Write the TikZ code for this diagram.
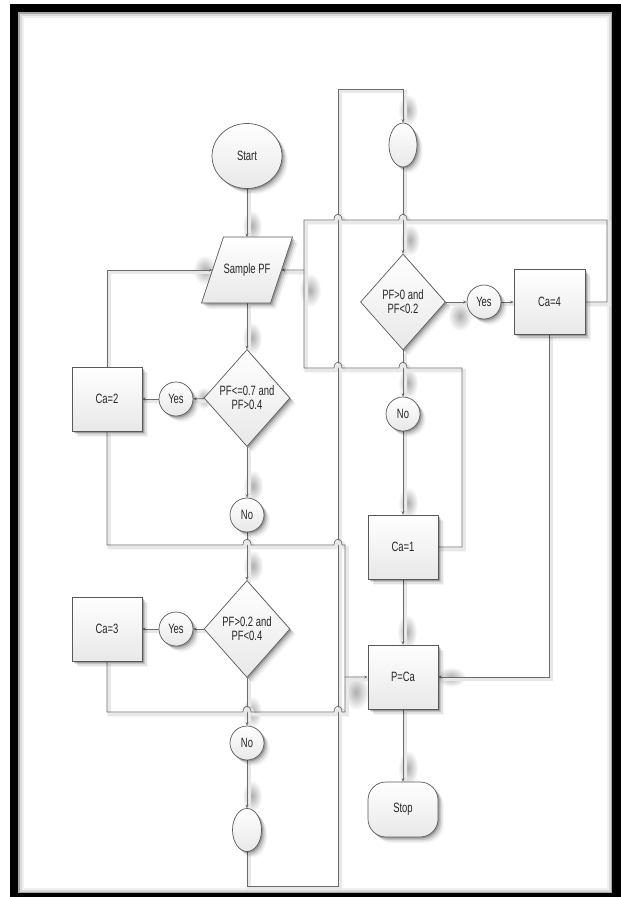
\documentclass[tikz,border=0pt]{standalone}
\usepackage{fontspec}
\setmainfont{Liberation Sans}[FakeStretch=0.7]
\usetikzlibrary{shapes.geometric,arrows.meta,shadows}
\pgfdeclarelayer{bg}
\pgfdeclarelayer{mid}
\pgfsetlayers{bg,mid,main}
\begin{document}
\begin{tikzpicture}[x=1pt,y=-1pt,
  ln/.style={draw=black!58, line width=0.75pt,
     preaction={draw=black!9, line width=3.5pt, -, transform canvas={shift={(2pt,-2.5pt)}}}},
  arr/.style={ln, -{Stealth[length=3.5pt,width=3pt]}},
  sh/.style={drop shadow={shadow xshift=1.5pt,shadow yshift=-1.5pt,opacity=.2,fill=black},
             drop shadow={shadow xshift=3pt,shadow yshift=-3pt,opacity=.13,fill=black},
             drop shadow={shadow xshift=4.5pt,shadow yshift=-4.5pt,opacity=.08,fill=black},
             drop shadow={shadow xshift=6pt,shadow yshift=-6pt,opacity=.04,fill=black}},
  txt/.style={text=black!85, font=\fontsize{13.5}{14}\selectfont, align=center},
  box/.style={sh, draw=black!65, line width=0.7pt, top color=white, bottom color=black!9,
              txt, inner sep=0pt},
  proc/.style={box, rectangle, minimum width=70pt, minimum height=64pt},
  dec/.style={box, diamond, minimum width=86pt, minimum height=97pt},
  ans/.style={box, circle, minimum size=34pt},
  oval/.style={box, ellipse, minimum width=28pt, minimum height=44pt},
  blob/.style={inner color=black!32, outer color=white}]
\useasboundingbox (0,0) rectangle (621,897);
\begin{pgfonlayer}{bg}
% frame
\fill[black] (10,4) rectangle (621,897);
\fill[white] (18,12) rectangle (612,893);
\draw[black!35, line width=1.5pt] (18.75,12.75) rectangle (611.25,892.25);
\draw[black!15, line width=2pt] (20.5,14.5) rectangle (609.5,890.5);
\draw[black!6, line width=2pt] (22.5,16.5) rectangle (607.5,888.5);
% arrowhead shadows
\shade[blob] (252,226) ellipse[x radius=10pt, y radius=16pt];
\shade[blob] (252,338) ellipse[x radius=10pt, y radius=16pt];
\shade[blob] (253,486) ellipse[x radius=10pt, y radius=16pt];
\shade[blob] (253,566) ellipse[x radius=10pt, y radius=16pt];
\shade[blob] (252,712) ellipse[x radius=10pt, y radius=16pt];
\shade[blob] (252,796) ellipse[x radius=10pt, y radius=16pt];
\shade[blob] (408,110) ellipse[x radius=10pt, y radius=16pt];
\shade[blob] (410,240) ellipse[x radius=10pt, y radius=16pt];
\shade[blob] (408,383) ellipse[x radius=10pt, y radius=16pt];
\shade[blob] (408,503) ellipse[x radius=10pt, y radius=16pt];
\shade[blob] (407,632) ellipse[x radius=10pt, y radius=18pt];
\shade[blob] (408,768) ellipse[x radius=10pt, y radius=18pt];
\shade[blob] (460,316) ellipse[x radius=12pt, y radius=15pt];
\shade[blob] (204,398) ellipse[x radius=9pt, y radius=11pt];
\shade[blob] (205,270) ellipse[x radius=12pt, y radius=15pt];
\shade[blob] (310,290) ellipse[x radius=11pt, y radius=17pt];
\shade[blob] (356,692) ellipse[x radius=13pt, y radius=18pt];
\shade[blob] (451,677) ellipse[x radius=15pt, y radius=10pt];
\end{pgfonlayer}

% Sample PF parallelogram
\path[box] (201.5,303) -- (270.5,303) -- (292.5,237) -- (223.5,237) -- cycle;
\node[txt] (spf) at (247,270) {Sample PF};
\coordinate (spfT) at (247,237);
\coordinate (spfB) at (247,303);
\coordinate (spfL) at (212.5,270);
\coordinate (spfR) at (281.5,270);

% left column
\node[box, ellipse, minimum width=70pt, minimum height=65pt] (start) at (247,156) {Start};
\node[dec] (d1) at (247,398) {PF<=0.7 and\\PF>0.4};
\node[ans] (yes1) at (176,399) {Yes};
\node[proc] (ca2) at (107,399) {Ca=2};
\node[ans] (no1) at (247,515) {No};
\node[dec] (d2) at (247,629) {PF>0.2 and\\PF<0.4};
\node[ans] (yes2) at (176,629) {Yes};
\node[proc] (ca3) at (107,629) {Ca=3};
\node[ans] (no2) at (247,743) {No};
\node[oval, minimum width=29pt, minimum height=43pt] (ov2) at (247,830) {};

% right column
\node[oval] (ov1) at (403,145) {};
\node[dec, minimum width=85pt, minimum height=96pt] (d3) at (403,302) {PF>0 and\\PF<0.2};
\node[ans] (yes3) at (484,302) {Yes};
\node[proc, minimum width=71pt, minimum height=65pt] (ca4) at (549.5,302) {Ca=4};
\node[ans] (no3) at (403,414) {No};
\node[proc] (ca1) at (403,547) {Ca=1};
\node[proc] (pca) at (403,677) {P=Ca};
\node[box, rectangle, rounded corners=18pt, minimum width=70pt, minimum height=55pt] (stop) at (403,809.5) {Stop};

% bend points
\coordinate (lpB) at (247,886);
\coordinate (lpC) at (338,886);
\coordinate (lpD) at (338,89);
\coordinate (lpE) at (403,89);
\coordinate (r1) at (607,302);
\coordinate (r2) at (607,220);
\coordinate (j1) at (304,220);
\coordinate (j2) at (304,270);
\coordinate (c1a) at (462,547);
\coordinate (c1b) at (462,368);
\coordinate (c1c) at (304,368);
\coordinate (m2) at (107,545);
\coordinate (m3) at (107,712);
\coordinate (v2) at (345,545);
\coordinate (v3) at (345,712);
\coordinate (vj) at (345,677);

\begin{pgfonlayer}{mid}
% connectors left column
\draw[arr] (start) -- (spfT);
\draw[arr] (spfB) -- (d1);
\draw[arr] (d1) -- (yes1);
\draw[arr] (yes1) -- (ca2);
\draw[arr] (ca2.north) |- (spfL);
\draw[arr] (d1) -- (no1);
\draw[arr] (no1) -- (d2);
\draw[arr] (d2) -- (yes2);
\draw[arr] (yes2) -- (ca3);
\draw[arr] (d2) -- (no2);
\draw[arr] (no2) -- (ov2);
\draw[arr] (ov2.south) -- (lpB) -- (lpC) -- (lpD) -- (lpE) -- (ov1.north);

% connectors right column
\draw[arr] (ov1) -- (d3);
\draw[arr] (d3) -- (yes3);
\draw[arr] (yes3) -- (ca4);
\draw[arr] (d3) -- (no3);
\draw[arr] (no3) -- (ca1);
\draw[arr] (ca1) -- (pca);
\draw[arr] (pca) -- (stop);
\draw[arr] (ca4.south) |- (pca.east);

% loops back to Sample PF
\draw[arr] (ca4.east) -- (r1) -- (r2)
  -- (407,220) arc[start angle=0,end angle=180,x radius=4pt,y radius=6pt]
  -- (342,220) arc[start angle=0,end angle=180,x radius=4pt,y radius=6pt]
  -- (j1) -- (j2) -- (spfR);
\draw[ln] (ca1.east) -- (c1a) -- (c1b)
  -- (407,368) arc[start angle=0,end angle=180,x radius=4pt,y radius=6pt]
  -- (342,368) arc[start angle=0,end angle=180,x radius=4pt,y radius=6pt]
  -- (c1c) -- (j2);

% Ca=2 and Ca=3 to P=Ca
\draw[arr] (ca2.south) -- (m2)
  -- (243,545) arc[start angle=180,end angle=0,x radius=4pt,y radius=6pt]
  -- (334,545) arc[start angle=180,end angle=0,x radius=4pt,y radius=6pt]
  -- (v2) -- (vj) -- (pca.west);
\draw[ln] (ca3.south) -- (m3)
  -- (243,712) arc[start angle=180,end angle=0,x radius=4pt,y radius=6pt]
  -- (334,712) arc[start angle=180,end angle=0,x radius=4pt,y radius=6pt]
  -- (v3) -- (vj);
\end{pgfonlayer}
\end{tikzpicture}
\end{document}
